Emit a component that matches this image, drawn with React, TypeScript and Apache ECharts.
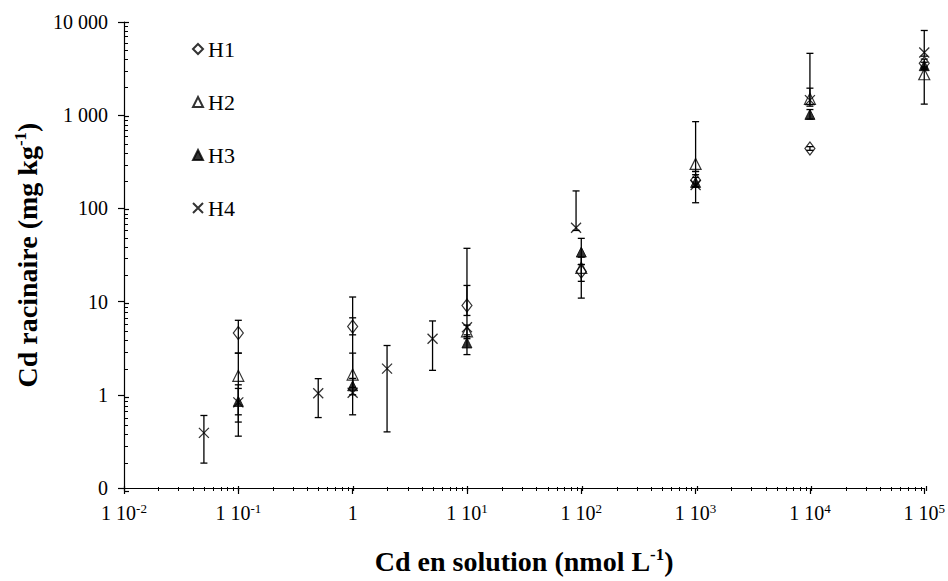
import React, { useEffect, useRef } from "react";
import * as echarts from "echarts";

const seriesNames = ["H1", "H2", "H3", "H4"];

const h1X = [0.1, 1, 10, 100, 1000, 10000, 100000];
const h1Y = [4.6, 5.4, 9.1, 21, 200, 440, 3600];
const h1Low = [2.8, 4.4, 7.1, 10.9, 170, 420, 3200];
const h1High = [6.3, 6.7, 14.9, 25, 230, 460, 4000];

const h2X = [0.1, 1, 10, 100, 1000, 10000, 100000];
const h2Y = [1.6, 1.65, 4.8, 23, 300, 1500, 2750];
const h2Low = [0.51, 1.2, 4.0, 16.5, 249, 1300, 1315];
const h2High = [2.8, 11.2, 5.6, 30, 853, 1950, 3300];

const h3X = [0.1, 1, 10, 100, 1000, 10000, 100000];
const h3Y = [0.85, 1.25, 3.6, 34, 190, 1020, 3400];
const h3Low = [0.61, 1.0, 2.7, 25, 170, 910, 3100];
const h3High = [1.17, 2.8, 4.4, 47.7, 215, 1150, 3700];

const h4X = [0.05, 0.1, 0.5, 1, 2, 5, 10, 90, 1000, 10000, 100000];
const h4Y = [0.39, 0.83, 1.04, 1.05, 1.91, 4.0, 5.3, 62, 178, 1450, 4700];
const h4Low = [0.185, 0.36, 0.57, 0.61, 0.4, 1.83, 4.2, 58, 115, 1250, 4300];
const h4High = [0.6, 1.28, 1.49, 1.5, 3.38, 6.2, 37.3, 154, 249, 4610, 8110];

const FONT = "'Liberation Serif', 'Times New Roman', serif";
const X_SYMBOL = "path://M0,0 L10,10 M10,0 L0,10";

function pts(xs: number[], ys: number[]) {
  return xs.map((x, i) => [x, ys[i]]);
}
function errs(xs: number[], lo: number[], hi: number[]) {
  return xs.map((x, i) => [x, lo[i], hi[i]]);
}

const allErr = [
  ...errs(h1X, h1Low, h1High),
  ...errs(h2X, h2Low, h2High),
  ...errs(h3X, h3Low, h3High),
  ...errs(h4X, h4Low, h4High),
];

function xLabel(v: number) {
  const e = Math.round(Math.log10(v));
  if (e === 0) return "1";
  return "1 10{sup|" + e + "}";
}
function yLabel(v: number) {
  const e = Math.round(Math.log10(v));
  if (e < 0) return "0";
  const map: Record<number, string> = { 0: "1", 1: "10", 2: "100", 3: "1 000", 4: "10 000" };
  return map[e] ?? String(v);
}

export default function App() {
  const ref = useRef<HTMLDivElement>(null);
  useEffect(() => {
    if (!ref.current) return;
    const chart = echarts.init(ref.current, undefined, { renderer: "svg" });
    const gridRect = { left: 124, right: 22, top: 22, bottom: 90 };
    const black = "#000";
    const titleStyle = {
      fontFamily: FONT,
      fontSize: 28,
      fontWeight: "bold",
      color: black,
      lineHeight: 30,
      rich: {
        sup: { fontSize: 17, lineHeight: 17, verticalAlign: "top", fontWeight: "bold", fontFamily: FONT, color: black },
      },
    };
    const option: any = {
      animation: false,
      backgroundColor: "#fff",
      textStyle: { fontFamily: FONT, color: black },
      grid: [
        { ...gridRect, containLabel: false },
        { ...gridRect, containLabel: false },
      ],
      legend: {
        data: seriesNames,
        orient: "vertical",
        left: 187,
        top: 32,
        itemGap: 29,
        itemWidth: 10,
        itemHeight: 10,
        textStyle: { fontFamily: FONT, fontSize: 22, color: black, lineHeight: 24 },
      },
      xAxis: [
        {
          type: "log",
          logBase: 10,
          gridIndex: 0,
          min: 0.01,
          max: 100000,
          interval: 1,
          splitLine: { show: false },
          axisLine: { lineStyle: { color: black, width: 1.2 } },
          axisTick: { show: true, inside: false, length: 6, lineStyle: { color: black, width: 1.2 } },
          minorTick: { show: false },
          axisLabel: {
            formatter: xLabel,
            margin: 14,
            fontFamily: FONT,
            fontSize: 20,
            color: black,
            lineHeight: 22,
            rich: {
              sup: { fontSize: 13, lineHeight: 13, verticalAlign: "top", fontFamily: FONT, color: black },
            },
          },
          name: "Cd en solution (nmol L{sup|-1})",
          nameLocation: "middle",
          nameGap: 58,
          nameTextStyle: titleStyle,
        },
        {
          type: "log",
          logBase: 10,
          gridIndex: 1,
          min: 0.01,
          max: 100000,
          interval: 1,
          splitLine: { show: false },
          axisLine: { show: false },
          axisTick: { show: true, inside: true, length: 5, lineStyle: { color: black, width: 1.2 } },
          minorTick: { show: true, splitNumber: 9, length: 4, lineStyle: { color: black, width: 1 } },
          axisLabel: { show: false },
        },
      ],
      yAxis: [
        {
          type: "log",
          logBase: 10,
          gridIndex: 0,
          min: 0.1,
          max: 10000,
          interval: 1,
          splitLine: { show: false },
          axisLine: { show: true, lineStyle: { color: black, width: 1.2 } },
          axisTick: { show: true, inside: false, length: 6, lineStyle: { color: black, width: 1.2 } },
          minorTick: { show: false },
          axisLabel: {
            formatter: yLabel,
            margin: 16,
            fontFamily: FONT,
            fontSize: 20,
            color: black,
          },
          name: "Cd racinaire (mg kg{sup|-1})",
          nameLocation: "middle",
          nameGap: 79,
          nameTextStyle: titleStyle,
        },
        {
          type: "log",
          logBase: 10,
          gridIndex: 1,
          min: 0.1,
          max: 10000,
          interval: 1,
          splitLine: { show: false },
          axisLine: { show: false },
          axisTick: { show: true, inside: true, length: 5, lineStyle: { color: black, width: 1.2 } },
          minorTick: { show: true, splitNumber: 9, length: 4, lineStyle: { color: black, width: 1 } },
          axisLabel: { show: false },
        },
      ],
      series: [
        {
          type: "custom",
          name: "err",
          xAxisIndex: 0,
          yAxisIndex: 0,
          data: allErr,
          encode: { x: 0, y: [1, 2] },
          z: 1,
          renderItem: (params: any, api: any) => {
            const x = api.value(0);
            const lo = api.value(1);
            const hi = api.value(2);
            const p1 = api.coord([x, lo]);
            const p2 = api.coord([x, hi]);
            const hw = 3.5;
            const style = { stroke: black, lineWidth: 1.3, fill: "none" };
            return {
              type: "group",
              children: [
                { type: "line", shape: { x1: p1[0], y1: p1[1], x2: p2[0], y2: p2[1] }, style },
                { type: "line", shape: { x1: p1[0] - hw, y1: p1[1], x2: p1[0] + hw, y2: p1[1] }, style },
                { type: "line", shape: { x1: p2[0] - hw, y1: p2[1], x2: p2[0] + hw, y2: p2[1] }, style },
              ],
            };
          },
        },
        {
          type: "scatter",
          name: "H1",
          data: pts(h1X, h1Y),
          symbol: "diamond",
          symbolSize: [10, 13],
          z: 3,
          itemStyle: { color: "rgba(255,255,255,0)", borderColor: black, borderWidth: 1.2 },
        },
        {
          type: "scatter",
          name: "H2",
          data: pts(h2X, h2Y),
          symbol: "triangle",
          symbolSize: [11, 11],
          z: 3,
          itemStyle: { color: "rgba(255,255,255,0)", borderColor: black, borderWidth: 1.2 },
        },
        {
          type: "scatter",
          name: "H3",
          data: pts(h3X, h3Y),
          symbol: "triangle",
          symbolSize: [10, 10],
          z: 3,
          itemStyle: { color: black, borderColor: black, borderWidth: 1 },
        },
        {
          type: "scatter",
          name: "H4",
          data: pts(h4X, h4Y),
          symbol: X_SYMBOL,
          symbolSize: [10, 10],
          z: 3,
          itemStyle: { color: "rgba(255,255,255,0)", borderColor: black, borderWidth: 1.3 },
        },
      ],
    };
    chart.setOption(option);
    return () => chart.dispose();
  }, []);
  return <div ref={ref} style={{ width: 948, height: 581, position: "absolute", left: 0, top: 0 }} />;
}
